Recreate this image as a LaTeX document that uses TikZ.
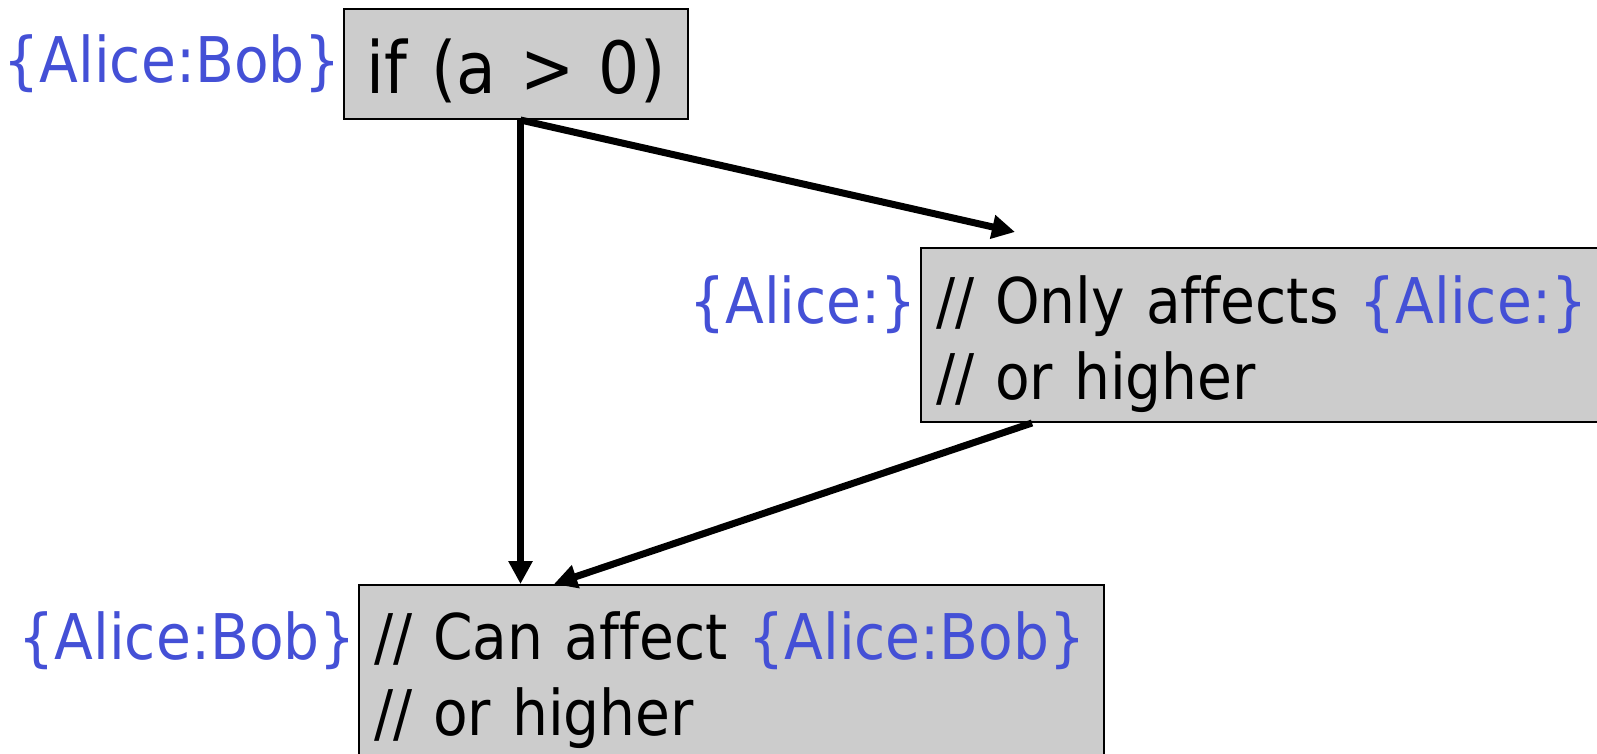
\documentclass[tikz,border=0pt]{standalone}
\usepackage{fontspec}
\setmainfont{DejaVu Sans}[FakeStretch=0.9, Ligatures=NoCommon]
\usetikzlibrary{arrows.meta,positioning,calc}
\definecolor{lblcol}{HTML}{4450D6}
\definecolor{boxgray}{HTML}{CCCCCC}

\begin{document}
\begin{tikzpicture}[x=1pt,y=-1pt,
  codebox/.style={draw=black, line width=2pt, fill=boxgray, anchor=north west,
    inner xsep=15pt, inner ysep=0pt, font=\fontsize{63}{76}\selectfont},
  lbl/.style={text=lblcol, anchor=base east, inner sep=0pt, font=\fontsize{63}{76}\selectfont},
  flow/.style={line width=7pt, -{Triangle[length=23pt,width=23pt]}}]
\useasboundingbox (0,0) rectangle (1597,753);

% the three statements
\node[codebox, align=center, text width=314pt, text height=84pt, text depth=26pt,
  font=\fontsize{72}{86}\selectfont] (ifbox) at (343,8) {if (a > 0)};
\node[codebox, align=left, text width=670pt, text height=75pt, text depth=99pt]
  (onlybox) at (920,247) {// Only affects \textcolor{lblcol}{\{Alice:\}}\\// or higher};
\node[codebox, align=left, text width=715pt, text height=74pt, text depth=132pt]
  (canbox) at (358,584) {// Can affect \textcolor{lblcol}{\{Alice:Bob\}}\\// or higher};

% labels in front of each statement
\node[lbl] (iflbl) at ([xshift=-2pt,yshift=11pt]ifbox.base west) {\{Alice:Bob\}};
\node[lbl] (onlylbl) at ([xshift=-3pt]onlybox.base west) {\{Alice:\}};
\node[lbl] (canlbl) at ([xshift=-2pt]canbox.base west) {\{Alice:Bob\}};

% control flow
\draw[flow] ([xshift=4.5pt]ifbox.south) -- ([xshift=4.5pt]ifbox.south |- canbox.north);
\draw[flow] ([xshift=4.5pt]ifbox.south) -- ($(onlybox.north west)+(95,-15)$);
\draw[flow] ($(onlybox.south west)+(112,0)$) -- ($(canbox.north west)+(196,0)$);
\end{tikzpicture}
\end{document}
